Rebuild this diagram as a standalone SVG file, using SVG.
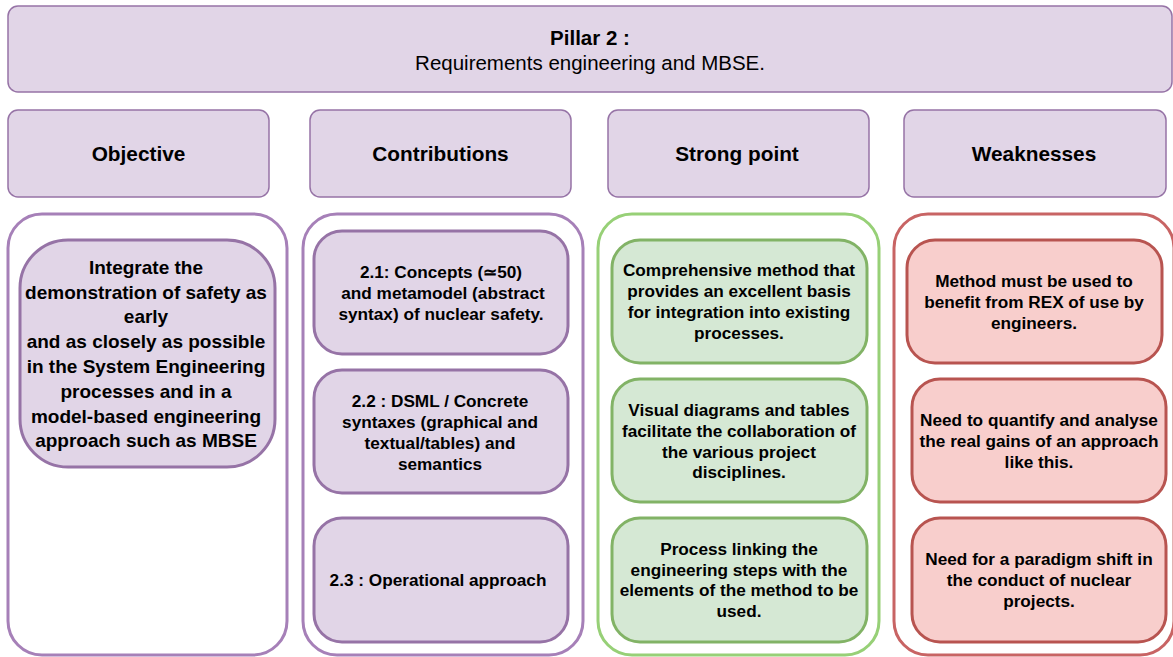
<svg xmlns="http://www.w3.org/2000/svg" width="1173" height="657" viewBox="0 0 1173 657">
<style>
.hdr{fill:#e1d5e7;stroke:#9673a6;stroke-width:1.5}
.cp{fill:#ffffff;stroke:#a680b8;stroke-width:3}
.cg{fill:#ffffff;stroke:#97d077;stroke-width:3}
.cr{fill:#ffffff;stroke:#c86464;stroke-width:3}
.bp{fill:#e1d5e7;stroke:#9673a6;stroke-width:3}
.bg{fill:#d5e8d4;stroke:#82b366;stroke-width:3}
.br{fill:#f8cecc;stroke:#b85450;stroke-width:3}
text{font-family:"Liberation Sans",Arial,sans-serif;fill:#000;text-anchor:middle;dominant-baseline:central}
.t{font-size:20.8px;font-weight:bold}
.s{font-size:17.2px;font-weight:bold}
.o{font-size:19px;font-weight:bold}
</style>
<rect width="1173" height="657" fill="#ffffff"/>
<g id="pillar">
<rect class="hdr" x="8" y="6" width="1164" height="86" rx="10"/>
<text x="590" y="37" style="font-size:20.5px;font-weight:bold">Pillar 2 :</text>
<text x="590" y="62" style="font-size:20.5px">Requirements engineering and MBSE.</text>
</g>
<g id="hdr-objective"><rect class="hdr" x="8" y="110" width="261" height="87" rx="10"/><text class="t" x="138.5" y="153">Objective</text></g>
<g id="hdr-contributions"><rect class="hdr" x="310" y="110" width="261" height="87" rx="10"/><text class="t" x="440.5" y="153">Contributions</text></g>
<g id="hdr-strong"><rect class="hdr" x="608" y="110" width="261" height="87" rx="10"/><text class="t" x="737" y="153">Strong point</text></g>
<g id="hdr-weak"><rect class="hdr" x="904" y="110" width="262" height="87" rx="10"/><text class="t" x="1034" y="153">Weaknesses</text></g>

<g id="col-objective">
<rect class="cp" x="8" y="214" width="279" height="441" rx="34"/>
<g id="objective">
<rect class="bp" x="20" y="240" width="255" height="227" rx="48"/>
<text class="o" x="146" y="267">Integrate the</text>
<text class="o" x="146" y="292">demonstration of safety as</text>
<text class="o" x="146" y="316">early</text>
<text class="o" x="146" y="341">and as closely as possible</text>
<text class="o" x="146" y="366">in the System Engineering</text>
<text class="o" x="146" y="391">processes and in a</text>
<text class="o" x="146" y="416">model-based engineering</text>
<text class="o" x="146" y="440">approach such as MBSE</text>
</g>
</g>

<g id="col-contributions">
<rect class="cp" x="303" y="214" width="280" height="441" rx="34"/>
<g id="c21">
<rect class="bp" x="314" y="231" width="254" height="123" rx="28"/>
<text class="s" x="441" y="272">2.1: Concepts (≃50)</text>
<text class="s" x="443" y="293">and metamodel (abstract</text>
<text class="s" x="441" y="314">syntax) of nuclear safety.</text>
</g>
<g id="c22">
<rect class="bp" x="314" y="370" width="254" height="123" rx="28"/>
<text class="s" x="440" y="401">2.2 : DSML / Concrete</text>
<text class="s" x="440" y="422">syntaxes (graphical and</text>
<text class="s" x="440" y="443">textual/tables) and</text>
<text class="s" x="440" y="464">semantics</text>
</g>
<g id="c23">
<rect class="bp" x="314" y="518" width="254" height="124" rx="28"/>
<text class="s" x="438" y="580">2.3 : Operational approach</text>
</g>
</g>

<g id="col-strong">
<rect class="cg" x="598" y="214" width="281" height="441" rx="34"/>
<g id="s1">
<rect class="bg" x="612" y="240" width="255" height="123" rx="28"/>
<text class="s" x="739" y="270">Comprehensive method that</text>
<text class="s" x="739" y="291">provides an excellent basis</text>
<text class="s" x="739" y="312">for integration into existing</text>
<text class="s" x="739" y="333">processes.</text>
</g>
<g id="s2">
<rect class="bg" x="612" y="379" width="255" height="123" rx="28"/>
<text class="s" x="739" y="410">Visual diagrams and tables</text>
<text class="s" x="739" y="431">facilitate the collaboration of</text>
<text class="s" x="739" y="452">the various project</text>
<text class="s" x="739" y="472">disciplines.</text>
</g>
<g id="s3">
<rect class="bg" x="612" y="518" width="255" height="124" rx="28"/>
<text class="s" x="739" y="549">Process linking the</text>
<text class="s" x="739" y="570">engineering steps with the</text>
<text class="s" x="739" y="590">elements of the method to be</text>
<text class="s" x="739" y="611">used.</text>
</g>
</g>

<g id="col-weak">
<rect class="cr" x="894" y="214" width="280" height="441" rx="34"/>
<g id="w1">
<rect class="br" x="907" y="240" width="255" height="123" rx="28"/>
<text class="s" x="1034" y="281">Method must be used to</text>
<text class="s" x="1034" y="302">benefit from REX of use by</text>
<text class="s" x="1034" y="323">engineers.</text>
</g>
<g id="w2">
<rect class="br" x="912" y="379" width="254" height="123" rx="28"/>
<text class="s" x="1039" y="420">Need to quantify and analyse</text>
<text class="s" x="1039" y="441">the real gains of an approach</text>
<text class="s" x="1039" y="462">like this.</text>
</g>
<g id="w3">
<rect class="br" x="912" y="518" width="254" height="124" rx="28"/>
<text class="s" x="1039" y="559">Need for a paradigm shift in</text>
<text class="s" x="1039" y="580">the conduct of nuclear</text>
<text class="s" x="1039" y="601">projects.</text>
</g>
</g>
<g id="connectors"></g>
</svg>
